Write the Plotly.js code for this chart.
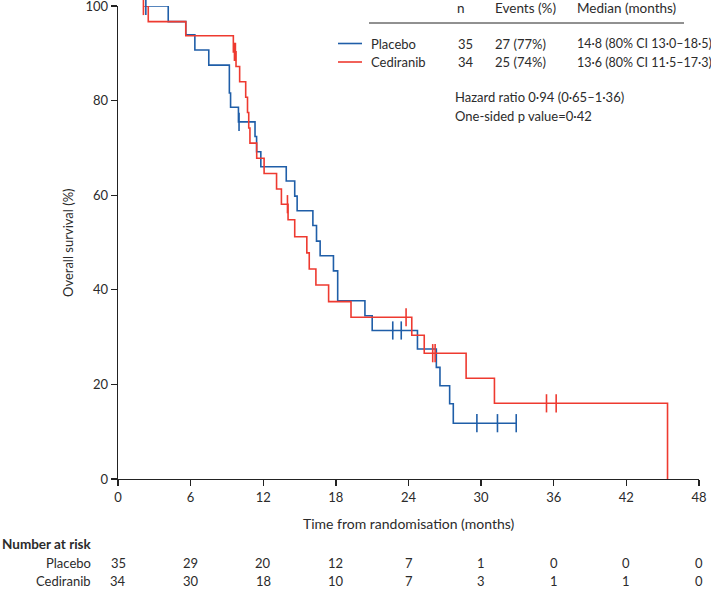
<!DOCTYPE html>
<html>
<head>
<meta charset="utf-8">
<script src="https://cdn.plot.ly/plotly-3.0.1.min.js"></script>
<style>html,body{margin:0;padding:0;background:#fff;}#chart{width:711px;height:589px;}</style>
</head>
<body>
<div id="chart"></div>
<script>
// ---- Data ----
const placeboTimes = [2.3, 4.15, 5.6, 6.35, 7.5, 9.2, 9.3, 9.95, 11.32, 11.45, 11.8, 13.9, 14.6, 14.8, 16.1, 16.4, 16.7, 17.8, 18.15, 20.4, 21.0, 24.74, 26.3, 26.6, 27.4, 27.7, 32.9];
const placeboSurv  = [100, 96.7, 93.9, 90.7, 87.5, 81.6, 78.6, 75.5, 72.4, 69.2, 66.0, 63.0, 59.8, 56.7, 53.6, 50.3, 47.2, 44.0, 37.7, 34.5, 31.4, 27.5, 23.6, 19.7, 15.9, 11.8, 11.8];
const placeboCensorTimes = [2.3, 10.0, 22.7, 23.4, 29.65, 31.35, 32.9];
const placeboCensorSurv  = [100, 75.5, 31.4, 31.4, 11.8, 11.8, 11.8];

const cedTimes = [2.1, 2.5, 5.6, 9.53, 9.75, 10.05, 10.55, 10.7, 10.8, 10.9, 11.46, 12.07, 13.1, 13.5, 14.05, 14.6, 15.6, 15.8, 16.35, 17.4, 19.25, 24.27, 25.3, 28.76, 31.1, 45.4];
const cedSurv  = [100, 96.7, 93.7, 90.3, 87.2, 84.0, 80.7, 77.5, 74.2, 71.0, 67.8, 64.6, 61.3, 58.1, 54.8, 51.2, 47.8, 44.4, 41.0, 37.5, 34.2, 30.4, 26.6, 21.3, 16.0, 0];
const cedCensorTimes = [2.1, 9.62, 9.7, 14.0, 23.8, 26.0, 26.2, 35.4, 36.2];
const cedCensorSurv  = [100, 90.3, 90.3, 58.1, 34.2, 26.6, 26.6, 16.0, 16.0];

const xTicks = [0, 6, 12, 18, 24, 30, 36, 42, 48];
const yTicks = [0, 20, 40, 60, 80, 100];
const riskPlacebo = [35, 29, 20, 12, 7, 1, 0, 0, 0];
const riskCediranib = [34, 30, 18, 10, 7, 3, 1, 1, 0];

const groups = ["Placebo", "Cediranib"];
const groupN = ["35", "34"];
const groupEvents = ["27 (77%)", "25 (74%)"];
const groupMedian = ["14·8 (80% CI 13·0–18·5)", "13·6 (80% CI 11·5–17·3)"];
const headers = ["n", "Events (%)", "Median (months)"];
const statsLines = ["Hazard ratio 0·94 (0·65–1·36)", "One-sided p value=0·42"];

// ---- Styling ----
const BLUE = "#1f5ea8";
const RED = "#ee3a30";
const FONT = "Lato";
const TXT = "#2b2b2b";

// plot area in pixels
const L = 118, R = 699, T = 6, B = 479;
const px = x => (x - L) / (R - L);
const py = y => (B - y) / (B - T);

const traces = [
  {x: placeboTimes, y: placeboSurv, mode: "lines", line: {color: BLUE, width: 1.6, shape: "hv"}, showlegend: false, hoverinfo: "skip"},
  {x: cedTimes, y: cedSurv, mode: "lines", line: {color: RED, width: 1.6, shape: "hv"}, showlegend: false, hoverinfo: "skip"},
  {x: placeboCensorTimes, y: placeboCensorSurv, mode: "markers", marker: {symbol: "line-ns-open", size: 13, color: BLUE, line: {color: BLUE, width: 1.6}}, showlegend: false, cliponaxis: false, hoverinfo: "skip"},
  {x: cedCensorTimes, y: cedCensorSurv, mode: "markers", marker: {symbol: "line-ns-open", size: 13, color: RED, line: {color: RED, width: 1.6}}, showlegend: false, cliponaxis: false, hoverinfo: "skip"}
];

const ann = [];
const shapes = [];
const f = (size, bold) => ({family: FONT, size: size, color: TXT, weight: bold ? "bold" : "normal"});

// header of the summary table
const headerX = [455, 493, 575];
headers.forEach((h, i) => ann.push({xref: "paper", yref: "paper", x: px(headerX[i]), y: py(8), text: h, showarrow: false, xanchor: "left", yanchor: "middle", font: f(13.5)}));
shapes.push({type: "line", xref: "paper", yref: "paper", x0: px(369), x1: px(684), y0: py(23), y1: py(23), line: {color: "#222", width: 1}});

const rowY = [43.5, 62];
const rowCol = [BLUE, RED];
groups.forEach((g, i) => {
  shapes.push({type: "line", xref: "paper", yref: "paper", x0: px(338), x1: px(362), y0: py(rowY[i]), y1: py(rowY[i]), line: {color: rowCol[i], width: 1.6}});
  ann.push({xref: "paper", yref: "paper", x: px(369), y: py(rowY[i]), text: g, showarrow: false, xanchor: "left", yanchor: "middle", font: f(13)});
  ann.push({xref: "paper", yref: "paper", x: px(456), y: py(rowY[i]), text: groupN[i], showarrow: false, xanchor: "left", yanchor: "middle", font: f(13)});
  ann.push({xref: "paper", yref: "paper", x: px(493), y: py(rowY[i]), text: groupEvents[i], showarrow: false, xanchor: "left", yanchor: "middle", font: f(13)});
  ann.push({xref: "paper", yref: "paper", x: px(575), y: py(rowY[i]), text: groupMedian[i], showarrow: false, xanchor: "left", yanchor: "middle", font: f(12.5)});
});
statsLines.forEach((s, i) => ann.push({xref: "paper", yref: "paper", x: px(453), y: py(97 + 19 * i), text: s, showarrow: false, xanchor: "left", yanchor: "middle", font: f(13)}));

// axis titles
ann.push({xref: "paper", yref: "paper", x: px(409), y: py(523), text: "Time from randomisation (months)", showarrow: false, xanchor: "center", yanchor: "middle", font: f(14)});
ann.push({xref: "paper", yref: "paper", x: px(68), y: py(243), text: "Overall survival (%)", textangle: -90, showarrow: false, xanchor: "center", yanchor: "middle", font: f(13)});

// number at risk
ann.push({xref: "paper", yref: "paper", x: px(0), y: py(544), text: "<b>Number at risk</b>", showarrow: false, xanchor: "left", yanchor: "middle", font: f(13.5, true)});
const riskRows = [riskPlacebo, riskCediranib];
const riskY = [563, 581];
groups.forEach((g, i) => {
  ann.push({xref: "paper", yref: "paper", x: px(93), y: py(riskY[i]), text: g, showarrow: false, xanchor: "right", yanchor: "middle", font: f(13)});
  riskRows[i].forEach((v, j) => ann.push({xref: "x", yref: "paper", x: xTicks[j], y: py(riskY[i]), text: String(v), showarrow: false, xanchor: "center", yanchor: "middle", font: f(13)}));
});

const axisCommon = {showgrid: false, zeroline: false, showline: true, linecolor: "#222", linewidth: 1.3,
  ticks: "outside", ticklen: 6, tickwidth: 1.3, tickcolor: "#222", ticklabeloverflow: "allow",
  tickfont: {family: FONT, size: 13, color: TXT}, fixedrange: true};

const layout = {
  width: 711, height: 589,
  margin: {l: L, r: 711 - R, t: T, b: 589 - B, pad: 0},
  paper_bgcolor: "#fff", plot_bgcolor: "#fff",
  font: {family: FONT, size: 13, color: TXT},
  xaxis: Object.assign({range: [0, 48], tickvals: xTicks, ticktext: xTicks.map(String)}, axisCommon),
  yaxis: Object.assign({range: [0, 100], tickvals: yTicks, ticktext: yTicks.map(String)}, axisCommon),
  annotations: ann, shapes: shapes, showlegend: false
};

Plotly.newPlot("chart", traces, layout, {staticPlot: true});
</script>
</body>
</html>
